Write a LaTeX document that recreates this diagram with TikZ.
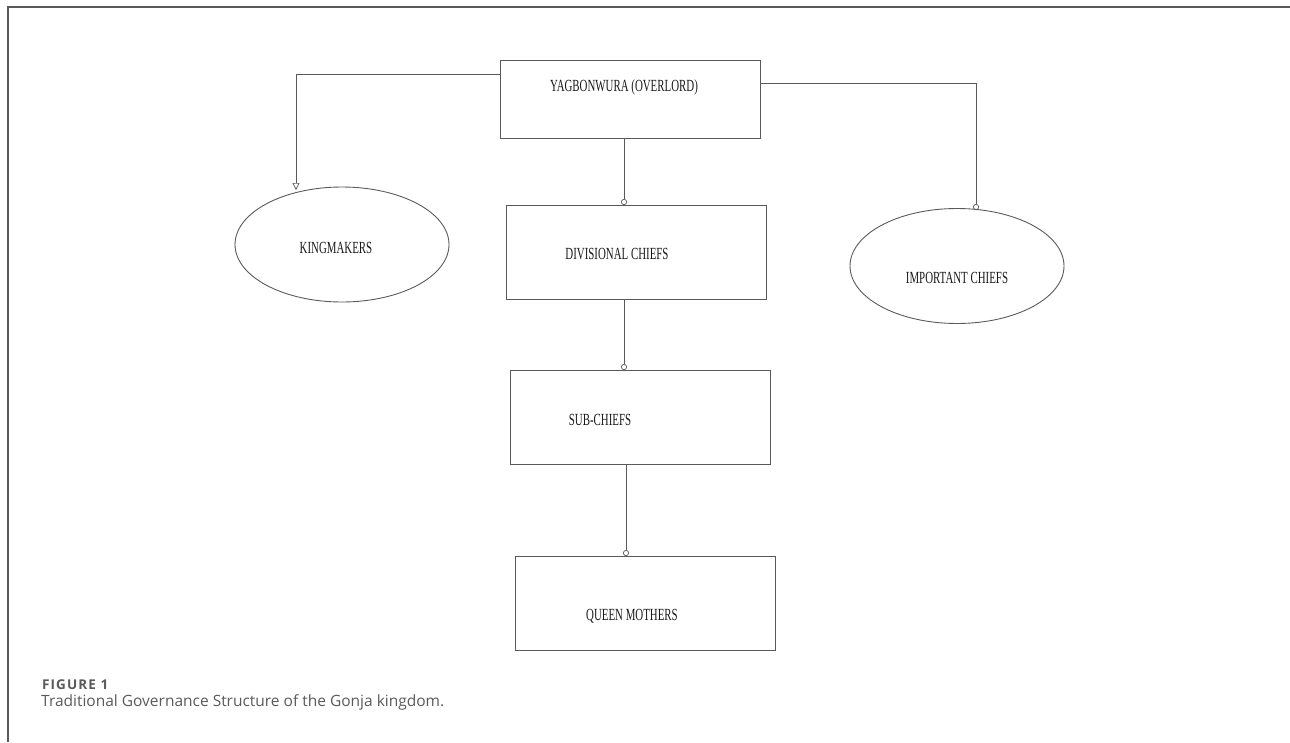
\documentclass[tikz,border=0pt]{standalone}
\usepackage{fontspec}
\setmainfont{Liberation Serif}
\newfontfamily\capfont{Open Sans}
\newfontfamily\figfont[LetterSpace=8]{Open Sans}
\newfontfamily\boxfont[FakeStretch=0.64]{Liberation Serif}
\usetikzlibrary{arrows.meta,shapes.geometric}
\definecolor{boxline}{HTML}{5A5A5A}
\definecolor{capgray}{HTML}{5A5A5A}
\tikzset{
  box/.style={draw=boxline, line width=0.9pt, minimum width=260pt, minimum height=94pt, inner sep=0pt},
  oval/.style={draw=boxline, line width=0.9pt, ellipse, minimum width=214pt, minimum height=115pt, inner sep=0pt},
  lbl/.style={font=\boxfont\fontsize{17}{19}\selectfont, text=black!90, inner sep=0pt},
  conn/.style={draw=black!65, line width=0.7pt},
  circtip/.style={-{Circle[open, length=6pt, width=6pt]}},
  tritip/.style={-{Triangle[open, length=7pt, width=7pt]}},
}
\begin{document}
\begin{tikzpicture}[x=1pt,y=-1pt]
\useasboundingbox (0,0) rectangle (1290,742);
% frame
\draw[draw=black!65, line width=1.3pt] (8,742) -- (8,7) -- (1290,7);
% boxes
\node[box, minimum height=78pt] (yag) at (630,99) {};
\node[box] (div) at (636,252) {};
\node[box] (sub) at (640,417.5) {};
\node[box] (qm) at (645,603.5) {};
\node[oval] (km) at (342,244.5) {};
\node[oval] (ic) at (957,266) {};
% labels
\node[lbl] (tyag) at (624,87) {YAGBONWURA (OVERLORD)};
\node[lbl] (tdiv) at (617,254) {DIVISIONAL CHIEFS};
\node[lbl] (tsub) at (600,420) {SUB-CHIEFS};
\node[lbl] (tqm) at (632,616) {QUEEN MOTHERS};
\node[lbl] (tkm) at (336,248) {KINGMAKERS};
\node[lbl] (tic) at (957,278) {IMPORTANT CHIEFS};
% connectors
\coordinate (kl) at (296,74);
\coordinate (ir) at (976,83);
\draw[conn, tritip] (yag.west |- kl) -- (kl) -- (296,190);
\draw[conn, circtip] (yag.east |- ir) -- (ir) -- (976,210);
\draw[conn, circtip] (624,138) -- (624,205);
\draw[conn, circtip] (624,299) -- (624,370);
\draw[conn, circtip] (626,465) -- (626,556);
% caption
\node[font=\figfont\fontsize{13.5}{15}\selectfont\bfseries, text=capgray, anchor=west, inner sep=0pt] (fig) at (42,685) {FIGURE 1};
\node[font=\capfont\fontsize{15.5}{18}\selectfont, text=capgray, anchor=west, inner sep=0pt] (cap) at (41,702) {Traditional Governance Structure of the Gonja kingdom.};
\end{tikzpicture}
\end{document}
